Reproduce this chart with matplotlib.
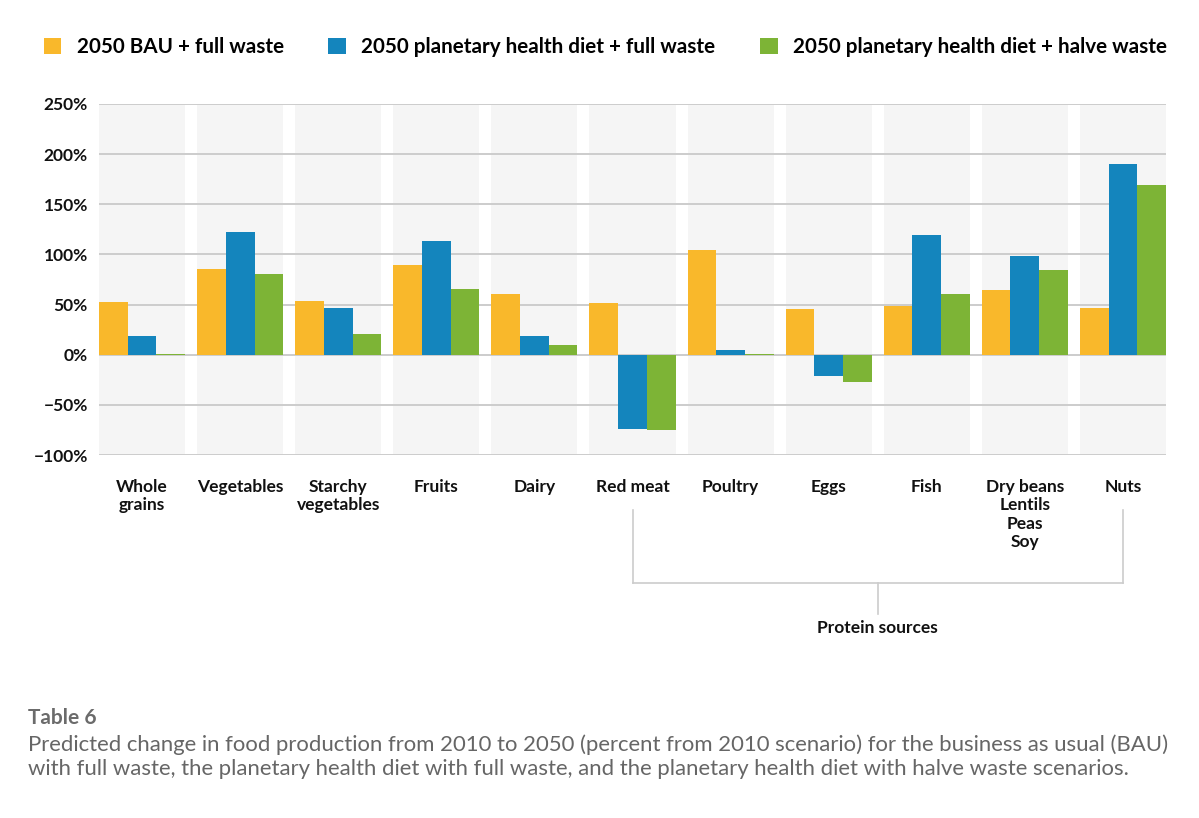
import matplotlib
matplotlib.use('Agg')
import numpy as np
import matplotlib.pyplot as plt
from matplotlib.patches import Patch
from matplotlib.transforms import blended_transform_factory

categories = ['Whole\ngrains', 'Vegetables', 'Starchy\nvegetables', 'Fruits', 'Dairy',
              'Red meat', 'Poultry', 'Eggs', 'Fish', 'Dry beans\nLentils\nPeas\nSoy', 'Nuts']
series_names = ['2050 BAU + full waste',
                '2050 planetary health diet + full waste',
                '2050 planetary health diet + halve waste']
bau_full = [53, 85, 54, 89, 61, 52, 104, 46, 49, 65, 47]
phd_full = [19, 122, 47, 113, 19, -74, 5, -21, 119, 98, 190]
phd_halve = [1, 80, 21, 66, 10, -75, 1, -27, 61, 84, 169]
yticks = [-100, -50, 0, 50, 100, 150, 200, 250]

colors = ['#F9B82B', '#1485BD', '#7DB436']
plt.rcParams['font.family'] = ['Lato', 'DejaVu Sans']

fig = plt.figure(figsize=(11.99, 8.18), dpi=100)
ax = fig.add_axes([99/1199, 1-455/818, 1067/1199, 351/818])

band = 0.878
w = band / 3
x = np.arange(len(categories))
for i in x:
    ax.axvspan(i - band/2, i + band/2, color='#f5f5f5', zorder=0, lw=0)
for t in yticks:
    ax.axhline(t, color='#cccccc', lw=1.4, zorder=1)

for k, vals in enumerate([bau_full, phd_full, phd_halve]):
    ax.bar(x - band/2 + w*(k+0.5), vals, width=w, color=colors[k], zorder=2, lw=0)

ax.set_xlim(-band/2, len(categories) - 1 + band/2)
ax.set_ylim(-100, 250)
ax.set_yticks(yticks)
ax.set_yticklabels(['\u2212100%' if t == -100 else ('\u221250%' if t == -50 else f'{t}%') for t in yticks],
                   fontsize=12.5, fontweight='bold', color='#111111')
ax.set_xticks(x)
ax.set_xticklabels(categories, fontsize=12.5, fontweight='bold', color='#111111',
                   va='top', linespacing=1.2)
ax.tick_params(axis='both', length=0)
ax.tick_params(axis='x', pad=17)
ax.tick_params(axis='y', pad=8)
for s in ax.spines.values():
    s.set_visible(False)

# bracket for protein sources
tr = blended_transform_factory(ax.transData, fig.transFigure)
def fy(p):
    return 1 - p/818
lc = '#cccccc'
ax.plot([5, 5], [fy(510), fy(583)], color=lc, lw=1.2, transform=tr, clip_on=False)
ax.plot([10, 10], [fy(510), fy(583)], color=lc, lw=1.2, transform=tr, clip_on=False)
ax.plot([5, 10], [fy(583), fy(583)], color=lc, lw=1.2, transform=tr, clip_on=False)
ax.plot([7.5, 7.5], [fy(583), fy(614)], color=lc, lw=1.2, transform=tr, clip_on=False)
ax.text(7.5, fy(628), 'Protein sources', transform=tr, ha='center', va='center',
        fontsize=12.5, fontweight='bold', color='#111111')

# legend
handles = [Patch(facecolor=c, edgecolor='none') for c in colors]
fig.legend(handles, series_names, loc='center left', bbox_to_anchor=(25/1199, 1-47/818),
           ncol=3, frameon=False, handlelength=0.85, handleheight=0.85, handletextpad=0.75,
           columnspacing=2.15, prop={'family': ['Lato', 'DejaVu Sans'], 'weight': 'bold', 'size': 14.9})

# caption
fig.text(28/1199, fy(718), 'Table 6', fontsize=15, fontweight='bold', color='#6b6b6b', va='center')
fig.text(28/1199, fy(757),
         'Predicted change in food production from 2010 to 2050 (percent from 2010 scenario) for the business as usual (BAU)\n'
         'with full waste, the planetary health diet with full waste, and the planetary health diet with halve waste scenarios.',
         fontsize=15.9, color='#666666', va='center', linespacing=1.25)

fig.savefig('out.png', dpi=100)
